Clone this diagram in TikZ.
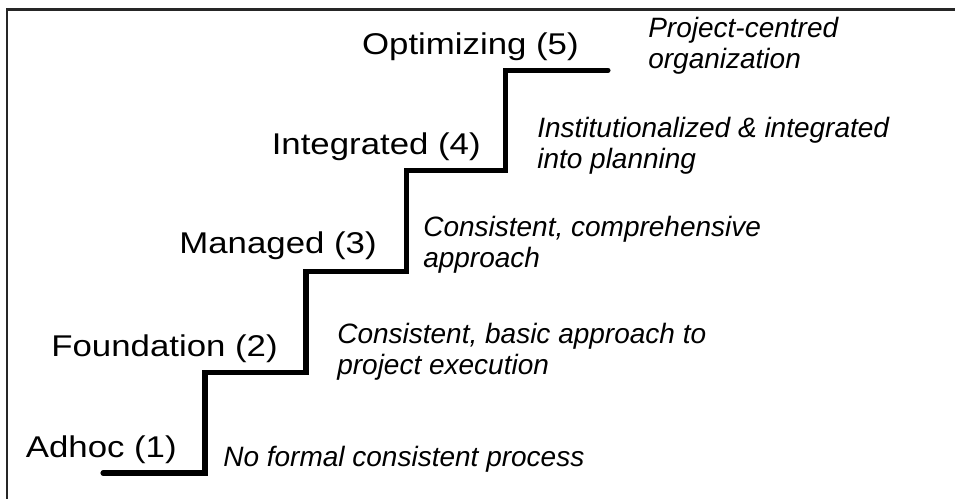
\documentclass[tikz,border=0pt]{standalone}
\usepackage{fontspec}
\setmainfont{Liberation Sans}
\newfontfamily\levelfont[FakeStretch=1.16]{Liberation Sans}
\usepackage{tikz}
\usetikzlibrary{positioning}

\tikzset{
  level/.style={font=\levelfont\fontsize{21.34}{25}\selectfont, anchor=base east, inner sep=0pt},
  note/.style={font=\fontsize{19.92}{22.05}\selectfont\itshape, anchor=base west, align=left, inner sep=0pt},
  stair/.style={line width=3.6pt, line cap=round, line join=miter},
}

\begin{document}
\begin{tikzpicture}
  \useasboundingbox (0,0) rectangle (23.875,12.475);

  % Frame
  \draw[line width=1.7pt, black!85] (0.175,0) -- (0.175,12.2375) -- (23.875,12.2375);

  % Stairs
  \draw[stair] (2.575,0.65) -- (5.125,0.65) -- (5.125,3.16) -- (7.65,3.16)
    -- (7.65,5.69) -- (10.16,5.69) -- (10.16,8.21) -- (12.64,8.21)
    -- (12.64,10.72) -- (15.2,10.72);

  % Levels
  \node[level] (adhoc) at (4.425,1.025) {Adhoc (1)};
  \node[level] (found) at (6.95,3.55) {Foundation (2)};
  \node[level] (managed) at (9.425,6.125) {Managed (3)};
  \node[level] (integ) at (12.025,8.6) {Integrated (4)};
  \node[level] (optim) at (14.475,11.1) {Optimizing (5)};

  % Descriptions (base = last line)
  \node[note] (adhocnote) at (5.575,0.8) {No formal consistent process};
  \node[note] (foundnote) at (8.425,3.1) {Consistent, basic approach to\\project execution};
  \node[note] (managednote) at (10.575,5.775) {Consistent, comprehensive\\approach};
  \node[note] (integnote) at (13.425,8.25) {Institutionalized \& integrated\\into planning};
  \node[note] (optimnote) at (16.2,10.75) {Project-centred\\organization};
\end{tikzpicture}
\end{document}
